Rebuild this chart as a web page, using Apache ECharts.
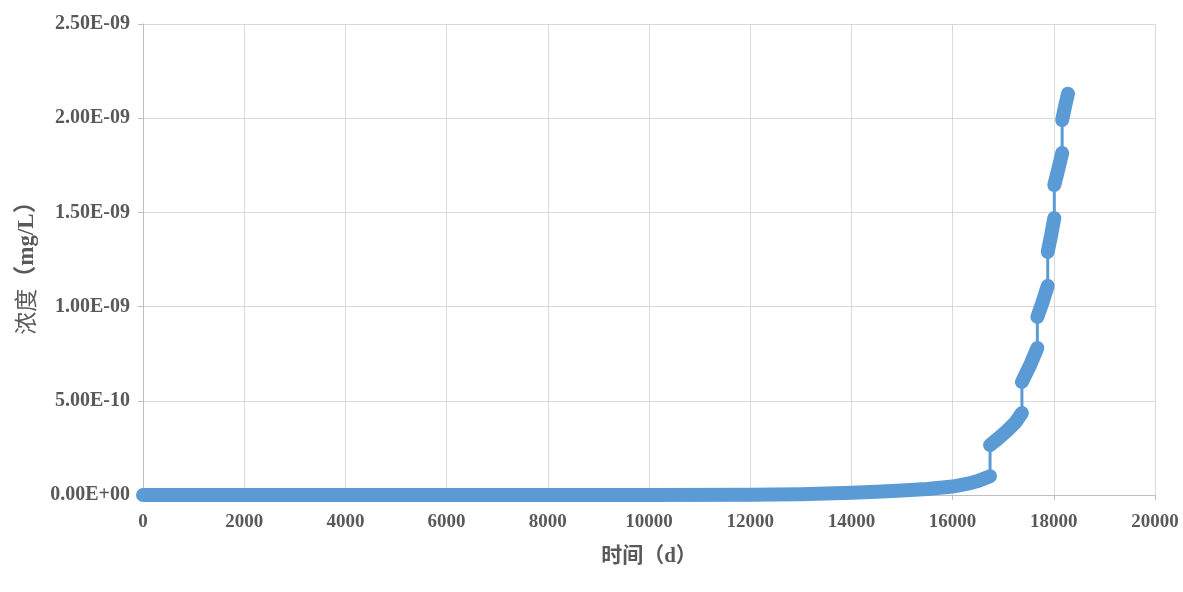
<!DOCTYPE html>
<html>
<head>
<meta charset="utf-8">
<script src="https://cdn.jsdelivr.net/npm/echarts@6/dist/echarts.min.js"></script>
<style>
  html, body { margin: 0; padding: 0; background: #ffffff; }
  #chart { width: 1183px; height: 592px; }
</style>
</head>
<body>
<div id="chart"></div>
<script>
// ---- data (time in days, concentration in mg/L) ----
const timeS1 = [0, 2000, 4000, 6000, 8000, 10000, 12000, 13000, 14000, 14500, 15000, 15500, 16000, 16300, 16500, 16740];
const concS1 = [0, 0, 0, 0, 0, 0, 1e-12, 4e-12, 1.2e-11, 1.7e-11, 2.4e-11, 3.2e-11, 4.5e-11, 6.0e-11, 7.4e-11, 1.0e-10];
const timeS2 = [16740, 16900, 17070, 17240, 17370];
const concS2 = [2.65e-10, 3.0e-10, 3.4e-10, 3.85e-10, 4.35e-10];
const timeS3 = [17370, 17525, 17675];
const concS3 = [6.0e-10, 6.85e-10, 7.8e-10];
const timeS4 = [17675, 17780, 17880];
const concS4 = [9.45e-10, 1.025e-9, 1.11e-9];
const timeS5 = [17880, 17945, 18010];
const concS5 = [1.29e-9, 1.375e-9, 1.47e-9];
const timeS6 = [18010, 18085, 18165];
const concS6 = [1.645e-9, 1.725e-9, 1.815e-9];
const timeS7 = [18165, 18220, 18280];
const concS7 = [1.99e-9, 2.06e-9, 2.13e-9];

const xTickLabels = ['0','2000','4000','6000','8000','10000','12000','14000','16000','18000','20000'];
const yTickLabels = ['0.00E+00','5.00E-10','1.00E-09','1.50E-09','2.00E-09','2.50E-09'];

const xAxisName = '时间（d）';
const yAxisNameA = '浓度';
const yAxisNameB = '（mg/L）';

// ---- build ----
const segments = [
  [timeS1, concS1], [timeS2, concS2], [timeS3, concS3], [timeS4, concS4],
  [timeS5, concS5], [timeS6, concS6], [timeS7, concS7]
];
const pairs = (t, c) => t.map((x, i) => [x, c[i]]);
const allPoints = [];
segments.forEach(([t, c]) => allPoints.push(...pairs(t, c)));

const blue = '#5b9bd5';
const labelColor = '#595959';
const serif = "'Liberation Serif', 'Times New Roman', 'Noto Sans CJK SC', serif";

const series = [{
  type: 'line',
  data: allPoints,
  showSymbol: false,
  symbol: 'none',
  lineStyle: { color: blue, width: 3 },
  z: 2,
  animation: false
}];
segments.forEach(([t, c]) => {
  series.push({
    type: 'line',
    data: pairs(t, c),
    showSymbol: false,
    symbol: 'none',
    smooth: false,
    lineStyle: { color: blue, width: 14, cap: 'round', join: 'round' },
    z: 3,
    animation: false
  });
});

const chart = echarts.init(document.getElementById('chart'), null, { renderer: 'canvas' });
chart.setOption({
  backgroundColor: '#ffffff',
  animation: false,
  grid: { left: 143, right: 28, top: 24, bottom: 97, containLabel: false },
  xAxis: {
    type: 'value',
    min: 0, max: 20000, interval: 2000,
    name: xAxisName,
    nameLocation: 'middle',
    nameGap: 51,
    nameTextStyle: { color: labelColor, fontSize: 21, fontWeight: 'bold', fontFamily: serif },
    axisLine: { show: true, lineStyle: { color: '#bfbfbf', width: 1 } },
    axisTick: { show: true, length: 5, lineStyle: { color: '#bfbfbf' } },
    axisLabel: {
      color: labelColor, fontSize: 19, fontWeight: 'bold', fontFamily: serif, margin: 18,
      formatter: v => xTickLabels[Math.round(v / 2000)]
    },
    splitLine: { show: true, lineStyle: { color: '#d9d9d9', width: 1 } }
  },
  yAxis: {
    type: 'value',
    min: 0, max: 2.5e-9, interval: 5e-10,
    name: '{a|' + yAxisNameA + '}{b|' + yAxisNameB + '}',
    nameLocation: 'middle',
    nameGap: 104,
    nameTextStyle: {
      color: labelColor, fontSize: 23, fontFamily: serif,
      padding: [0, 6, 0, 0],
      rich: {
        a: { color: labelColor, fontSize: 23, fontFamily: serif },
        b: { color: labelColor, fontSize: 23, fontWeight: 'bold', fontFamily: serif }
      }
    },
    axisLine: { show: true, lineStyle: { color: '#bfbfbf', width: 1 } },
    axisTick: { show: true, length: 5, lineStyle: { color: '#bfbfbf' } },
    axisLabel: {
      color: labelColor, fontSize: 20, fontWeight: 'bold', fontFamily: serif, margin: 13,
      formatter: v => yTickLabels[Math.round(v / 5e-10)]
    },
    splitLine: { show: true, lineStyle: { color: '#d9d9d9', width: 1 } }
  },
  series: series
});
</script>
</body>
</html>
